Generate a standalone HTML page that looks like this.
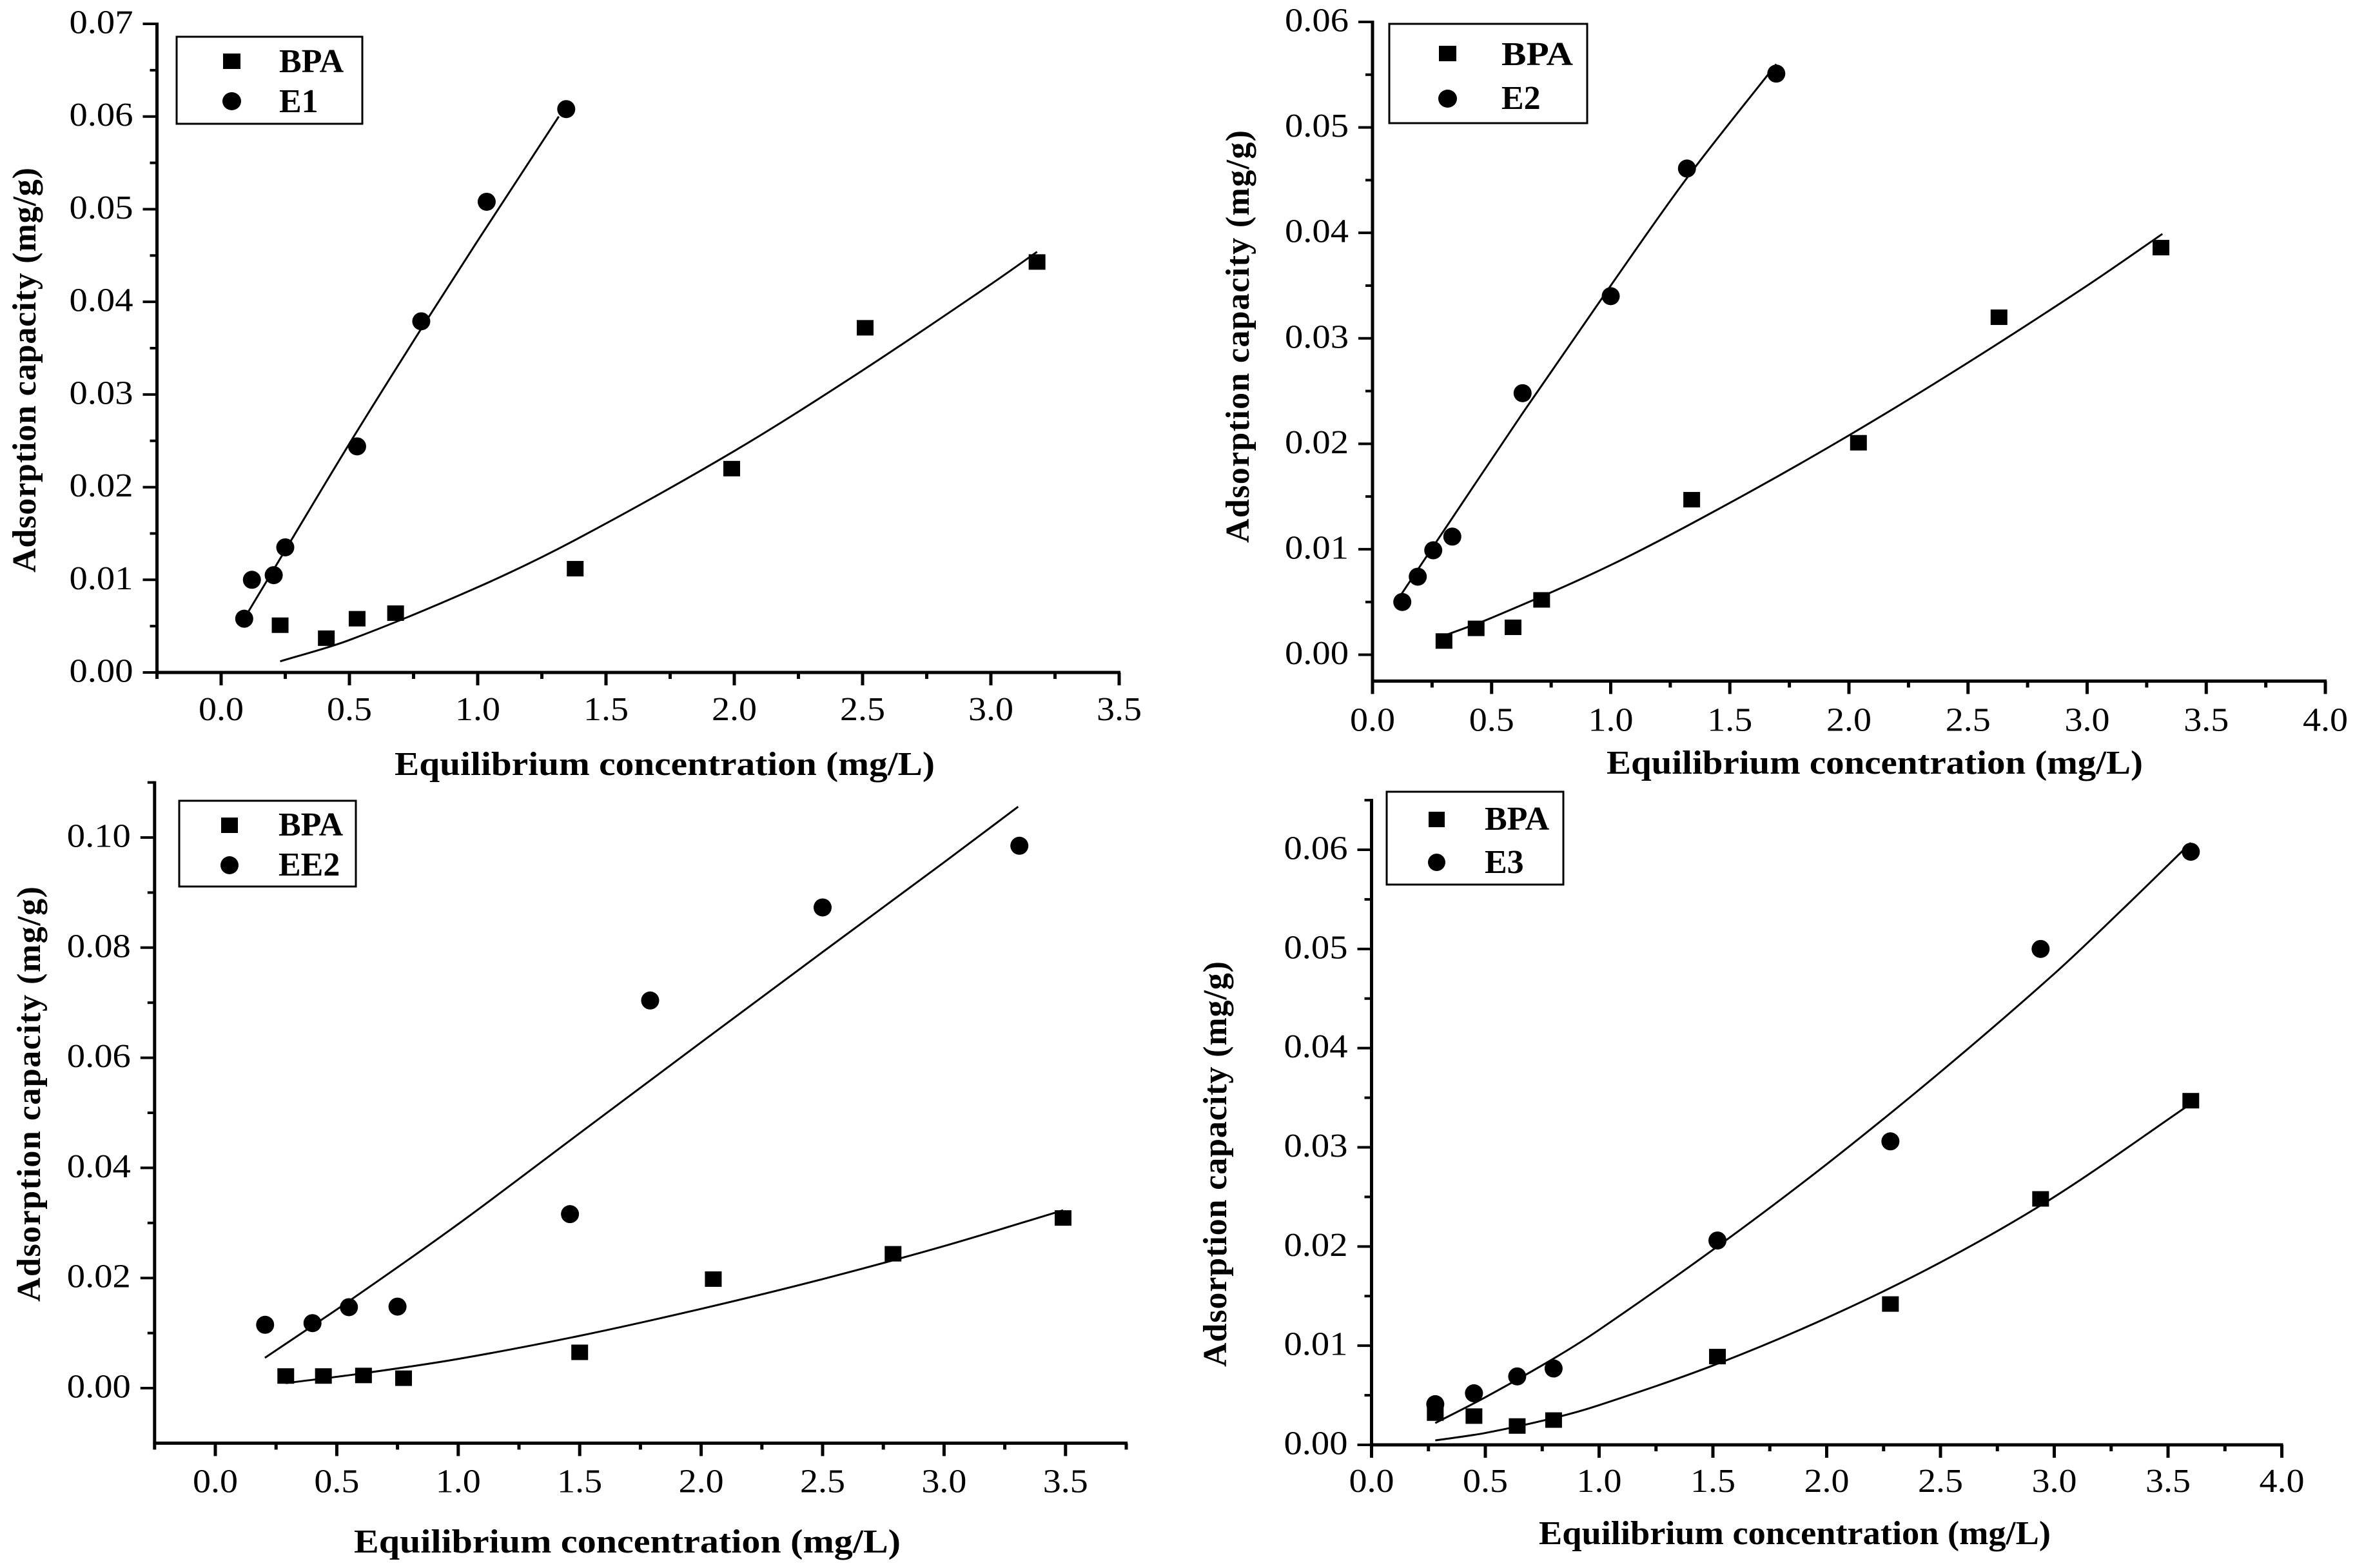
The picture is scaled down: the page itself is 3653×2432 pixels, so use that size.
<!DOCTYPE html>
<html lang="en">
<head>
<meta charset="utf-8">
<title>Adsorption isotherms of BPA with E1, E2, EE2 and E3</title>
<style>
html,body{margin:0;padding:0;background:#fff;width:3653px;height:2432px;overflow:hidden}
svg{display:block}
text{font-family:"Liberation Serif","Times New Roman",serif;fill:#000}
.title{font-size:52px;font-weight:bold}
.legend-text{font-size:52px;font-weight:bold}
.tick-label{font-size:52px}
</style>
</head>
<body>
<svg id="figure" xmlns="http://www.w3.org/2000/svg" width="3653" height="2432" viewBox="0 0 3653 2432">
  <rect width="3653" height="2432" fill="#fff"/>

  <g id="panel-e1">
    <text class="title" transform="translate(55 888) rotate(-90)" textLength="628">Adsorption capacity (mg/g)</text>
    <text class="title" x="612" y="1202" textLength="838" lengthAdjust="spacingAndGlyphs">Equilibrium concentration (mg/L)</text>
    <g>
      <rect x="274" y="57" width="288" height="135" fill="#fff" stroke="#000" stroke-width="3"/>
      <rect x="346" y="83" width="27" height="24" fill="#000"/>
      <text class="legend-text" x="433" y="112">BPA</text>
      <ellipse cx="359.5" cy="157" rx="14.5" ry="14" fill="#000"/>
      <text class="legend-text" x="433" y="174">E1</text>
    </g>
  </g>

  <g id="panel-e2">
    <text class="title" transform="translate(1937 842) rotate(-90)" textLength="640">Adsorption capacity (mg/g)</text>
    <text class="title" x="2492" y="1200" textLength="832" lengthAdjust="spacingAndGlyphs">Equilibrium concentration (mg/L)</text>
    <g>
      <rect x="2155" y="37" width="307" height="154" fill="#fff" stroke="#000" stroke-width="3"/>
      <rect x="2232" y="71" width="27" height="24" fill="#000"/>
      <text class="legend-text" x="2329" y="101" textLength="111" lengthAdjust="spacingAndGlyphs">BPA</text>
      <ellipse cx="2245.5" cy="153" rx="14.5" ry="14" fill="#000"/>
      <text class="legend-text" x="2329" y="169">E2</text>
    </g>
  </g>

  <g id="panel-ee2">
    <text class="title" transform="translate(62 2019) rotate(-90)" textLength="644">Adsorption capacity (mg/g)</text>
    <text class="title" x="549" y="2408" textLength="848" lengthAdjust="spacingAndGlyphs">Equilibrium concentration (mg/L)</text>
    <g>
      <rect x="278" y="1242" width="274" height="133" fill="#fff" stroke="#000" stroke-width="3"/>
      <rect x="343" y="1268" width="26" height="24" fill="#000"/>
      <text class="legend-text" x="432" y="1296">BPA</text>
      <ellipse cx="356" cy="1342" rx="14" ry="14" fill="#000"/>
      <text class="legend-text" x="432" y="1358">EE2</text>
    </g>
  </g>

  <g id="panel-e3">
    <text class="title" transform="translate(1902 2120) rotate(-90)" textLength="629">Adsorption capacity (mg/g)</text>
    <text class="title" x="2387" y="2395" textLength="794" lengthAdjust="spacingAndGlyphs">Equilibrium concentration (mg/L)</text>
    <g>
      <rect x="2151" y="1228" width="274" height="144" fill="#fff" stroke="#000" stroke-width="3"/>
      <rect x="2216" y="1259" width="25" height="24" fill="#000"/>
      <text class="legend-text" x="2303" y="1287">BPA</text>
      <ellipse cx="2228.5" cy="1337.5" rx="13.5" ry="13.5" fill="#000"/>
      <text class="legend-text" x="2303" y="1354">E3</text>
    </g>
  </g>
</svg>

<script>
/* ---------- Panel E1 data ---------- */
var e1XTicks = ['0.0','0.5','1.0','1.5','2.0','2.5','3.0','3.5'];
var e1YTicks = ['0.00','0.01','0.02','0.03','0.04','0.05','0.06','0.07'];
var e1BpaX = [0.23,0.41,0.53,0.68,1.38,1.99,2.51,3.18];
var e1BpaY = [0.0051,0.0037,0.0058,0.0064,0.0112,0.0220,0.0372,0.0443];
var e1HormoneX = [0.09,0.12,0.205,0.25,0.53,0.78,1.035,1.345];
var e1HormoneY = [0.0058,0.0100,0.0105,0.0135,0.0244,0.0379,0.0508,0.0608];
var e1BpaFitX = [0.23,0.5,1.0,1.38,2.0,2.5,3.0,3.18];
var e1BpaFitY = [0.0012,0.0035,0.0092,0.0143,0.0239,0.0326,0.0419,0.0454];
var e1HormoneFitX = [0.094,0.25,0.5,0.78,1.0,1.316];
var e1HormoneFitY = [0.0060,0.0132,0.0247,0.0371,0.0466,0.0600];

/* ---------- Panel E2 data ---------- */
var e2XTicks = ['0.0','0.5','1.0','1.5','2.0','2.5','3.0','3.5','4.0'];
var e2YTicks = ['0.00','0.01','0.02','0.03','0.04','0.05','0.06'];
var e2BpaX = [0.30,0.435,0.59,0.71,1.34,2.04,2.63,3.31];
var e2BpaY = [0.0013,0.0025,0.0026,0.0052,0.0147,0.0201,0.0320,0.0386];
var e2HormoneX = [0.125,0.19,0.255,0.335,0.63,1.0,1.32,1.695];
var e2HormoneY = [0.0050,0.0074,0.0099,0.0112,0.0248,0.0340,0.0461,0.0551];
var e2BpaFitX = [0.30,0.5,1.0,1.5,2.0,2.5,3.0,3.316];
var e2BpaFitY = [0.0018,0.0035,0.0085,0.0144,0.0208,0.0277,0.0350,0.0399];
var e2HormoneFitX = [0.117,0.25,0.33,0.63,1.0,1.32,1.695];
var e2HormoneFitY = [0.0056,0.0101,0.0128,0.0229,0.0350,0.0452,0.0560];

/* ---------- Panel EE2 data ---------- */
var ee2XTicks = ['0.0','0.5','1.0','1.5','2.0','2.5','3.0','3.5'];
var ee2YTicks = ['0.00','0.02','0.04','0.06','0.08','0.10'];
var ee2BpaX = [0.29,0.445,0.61,0.775,1.5,2.05,2.79,3.49];
var ee2BpaY = [0.0022,0.0022,0.0023,0.0018,0.0065,0.0198,0.0244,0.0309];
var ee2HormoneX = [0.205,0.40,0.55,0.75,1.46,1.79,2.50,3.31];
var ee2HormoneY = [0.0115,0.0118,0.0147,0.0148,0.0316,0.0704,0.0873,0.0985];
var ee2BpaFitX = [0.29,0.61,1.0,1.5,2.0,2.5,3.0,3.49];
var ee2BpaFitY = [0.0009,0.0027,0.0053,0.0095,0.0144,0.0198,0.0258,0.0323];
var ee2HormoneFitX = [0.204,0.55,1.0,1.5,2.0,2.5,3.0,3.305];
var ee2HormoneFitY = [0.0055,0.0158,0.0298,0.0463,0.0628,0.0792,0.0955,0.1056];

/* ---------- Panel E3 data ---------- */
var e3XTicks = ['0.0','0.5','1.0','1.5','2.0','2.5','3.0','3.5','4.0'];
var e3YTicks = ['0.00','0.01','0.02','0.03','0.04','0.05','0.06'];
var e3BpaX = [0.28,0.45,0.64,0.80,1.52,2.28,2.94,3.60];
var e3BpaY = [0.0032,0.0029,0.0019,0.0025,0.0089,0.0142,0.0248,0.0347];
var e3HormoneX = [0.28,0.45,0.64,0.80,1.52,2.28,2.94,3.60];
var e3HormoneY = [0.0041,0.0052,0.0069,0.0077,0.0206,0.0306,0.0500,0.0598];
var e3BpaFitX = [0.28,0.5,0.8,1.0,1.5,2.0,2.5,3.0,3.6];
var e3BpaFitY = [0.00045,0.0012,0.0027,0.0040,0.0080,0.0128,0.0184,0.0250,0.0344];
var e3HormoneFitX = [0.28,0.5,0.8,1.0,1.52,2.0,2.5,3.0,3.3,3.6];
var e3HormoneFitY = [0.0022,0.0048,0.0087,0.0116,0.0200,0.0283,0.0376,0.0475,0.0540,0.0607];

var SVG_NS = 'http://www.w3.org/2000/svg';

function make(parent, tag, attrs) {
  var el = document.createElementNS(SVG_NS, tag);
  for (var k in attrs) { el.setAttribute(k, attrs[k]); }
  parent.appendChild(el);
  return el;
}

function drawPoints(group, kind, xs, ys, sx, sy) {
  for (var i = 0; i < xs.length; i++) {
    var el;
    if (kind === 'square') {
      el = make(group, 'rect', {x: sx(xs[i]) - 13, y: sy(ys[i]) - 12, width: 26, height: 24, fill: '#000'});
      
      
    } else {
      el = make(group, 'ellipse', {cx: sx(xs[i]), cy: sy(ys[i]), rx: 14, ry: 14, fill: '#000'});
      
      
    }
  }
}

function drawFit(group, xs, ys, sx, sy) {
  var pts = xs.map(function (x, i) { return [sx(x), sy(ys[i])]; });
  var n = pts.length, slopes = [], i;
  for (i = 0; i < n; i++) {
    var a = pts[Math.max(0, i - 1)], b = pts[Math.min(n - 1, i + 1)];
    slopes.push((b[1] - a[1]) / (b[0] - a[0]));
  }
  var d = 'M' + pts[0][0] + ' ' + pts[0][1];
  for (i = 0; i < n - 1; i++) {
    var h = (pts[i + 1][0] - pts[i][0]) / 3;
    d += 'C' + (pts[i][0] + h) + ' ' + (pts[i][1] + slopes[i] * h) + ' ' +
         (pts[i + 1][0] - h) + ' ' + (pts[i + 1][1] - slopes[i + 1] * h) + ' ' +
         pts[i + 1][0] + ' ' + pts[i + 1][1];
  }
  var el = make(group, 'path', {d: d, fill: 'none', stroke: '#000', 'stroke-width': 3});
  
  
}

function drawAxes(group, g, xTicks, yTicks, sx, sy) {
  var axisY = sy(g.yMin), axisX = sx(g.xMin), i, el, v, step;

  var yAxis = make(group, 'line', {x1: axisX, x2: axisX, y1: sy(g.yMax) - 2, y2: axisY + 2, stroke: '#000', 'stroke-width': 5});
  
  

  var xAxis = make(group, 'line', {x1: axisX - 2, x2: sx(g.xMax) + 2, y1: axisY, y2: axisY, stroke: '#000', 'stroke-width': 5});
  
  

  /* x ticks */
  step = parseFloat(xTicks[1]) - parseFloat(xTicks[0]);
  for (i = 0; i < xTicks.length; i++) {
    v = parseFloat(xTicks[i]);
    el = make(group, 'line', {x1: sx(v), x2: sx(v), y1: axisY, y2: axisY + 20, stroke: '#000', 'stroke-width': 5});
    
    

    el = make(group, 'text', {x: sx(v), y: axisY + g.xLabelOffset, 'text-anchor': 'middle', 'class': 'tick-label', textLength: 70, lengthAdjust: 'spacingAndGlyphs'});
    el.textContent = xTicks[i];
    
    
  }
  for (v = parseFloat(xTicks[0]) - step / 2; v <= g.xMax + 1e-9; v += step) {
    if (v < g.xMin - 1e-9) { continue; }
    el = make(group, 'line', {x1: sx(v), x2: sx(v), y1: axisY, y2: axisY + 10, stroke: '#000', 'stroke-width': 5});
    
    
  }

  /* y ticks */
  step = parseFloat(yTicks[1]) - parseFloat(yTicks[0]);
  for (i = 0; i < yTicks.length; i++) {
    v = parseFloat(yTicks[i]);
    el = make(group, 'line', {x1: axisX, x2: axisX - 22, y1: sy(v), y2: sy(v), stroke: '#000', 'stroke-width': 4});
    
    

    el = make(group, 'text', {x: axisX - 37, y: sy(v) + 14.5, 'text-anchor': 'end', 'class': 'tick-label', textLength: 99, lengthAdjust: 'spacingAndGlyphs'});
    el.textContent = yTicks[i];
    
    
  }
  for (v = parseFloat(yTicks[0]) - step / 2; v <= g.yMax + 1e-9; v += step) {
    if (v < g.yMin + 1e-9) { continue; }
    el = make(group, 'line', {x1: axisX, x2: axisX - 11, y1: sy(v), y2: sy(v), stroke: '#000', 'stroke-width': 4});
    
    
  }
}

function drawPanel(id, g, d) {
  var group = document.getElementById(id);
  function sx(v) { return g.x0 + v * g.xUnit; }
  function sy(v) { return g.y0 - v * g.yUnit; }
  drawAxes(group, g, d.xTicks, d.yTicks, sx, sy);
  drawFit(group, d.bpaFitX, d.bpaFitY, sx, sy);
  drawFit(group, d.hormoneFitX, d.hormoneFitY, sx, sy);
  drawPoints(group, 'square', d.bpaX, d.bpaY, sx, sy);
  drawPoints(group, 'circle', d.hormoneX, d.hormoneY, sx, sy);
}

drawPanel('panel-e1',
  {x0: 343, xUnit: 398, y0: 1043, yUnit: 14371, xMin: -0.25, xMax: 3.5, yMin: 0, yMax: 0.07, xLabelOffset: 74},
  {xTicks: e1XTicks, yTicks: e1YTicks, bpaX: e1BpaX, bpaY: e1BpaY, hormoneX: e1HormoneX, hormoneY: e1HormoneY,
   bpaFitX: e1BpaFitX, bpaFitY: e1BpaFitY, hormoneFitX: e1HormoneFitX, hormoneFitY: e1HormoneFitY});

drawPanel('panel-e2',
  {x0: 2129, xUnit: 369.5, y0: 1015.5, yUnit: 16358, xMin: 0, xMax: 4, yMin: -0.0025, yMax: 0.06, xLabelOffset: 77},
  {xTicks: e2XTicks, yTicks: e2YTicks, bpaX: e2BpaX, bpaY: e2BpaY, hormoneX: e2HormoneX, hormoneY: e2HormoneY,
   bpaFitX: e2BpaFitX, bpaFitY: e2BpaFitY, hormoneFitX: e2HormoneFitX, hormoneFitY: e2HormoneFitY});

drawPanel('panel-ee2',
  {x0: 334, xUnit: 376.8, y0: 2153, yUnit: 8540, xMin: -0.25, xMax: 3.75, yMin: -0.01, yMax: 0.11, xLabelOffset: 76},
  {xTicks: ee2XTicks, yTicks: ee2YTicks, bpaX: ee2BpaX, bpaY: ee2BpaY, hormoneX: ee2HormoneX, hormoneY: ee2HormoneY,
   bpaFitX: ee2BpaFitX, bpaFitY: ee2BpaFitY, hormoneFitX: ee2HormoneFitX, hormoneFitY: ee2HormoneFitY});

drawPanel('panel-e3',
  {x0: 2127.5, xUnit: 353, y0: 2241, yUnit: 15383, xMin: 0, xMax: 4, yMin: 0, yMax: 0.065, xLabelOffset: 73},
  {xTicks: e3XTicks, yTicks: e3YTicks, bpaX: e3BpaX, bpaY: e3BpaY, hormoneX: e3HormoneX, hormoneY: e3HormoneY,
   bpaFitX: e3BpaFitX, bpaFitY: e3BpaFitY, hormoneFitX: e3HormoneFitX, hormoneFitY: e3HormoneFitY});
</script>
</body>
</html>
